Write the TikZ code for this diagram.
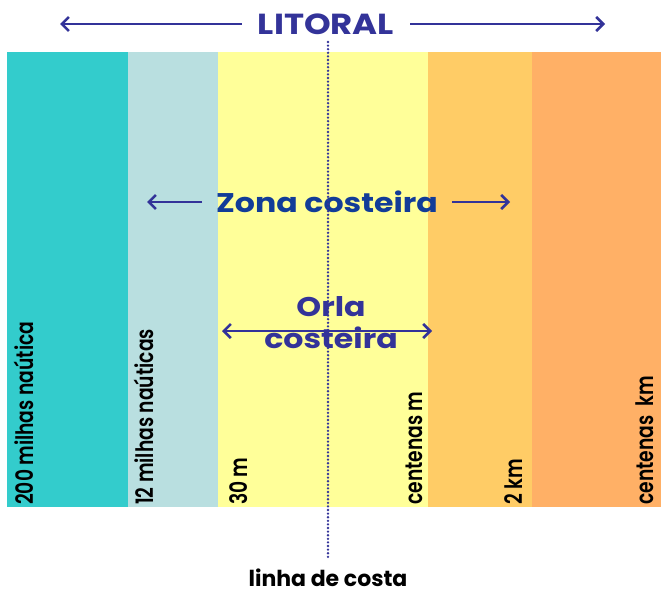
\documentclass[tikz,border=0pt]{standalone}
\usepackage{fontspec}
\setmainfont{Poppins}
\newfontfamily\medfont{Poppins SemiBold}
\usetikzlibrary{arrows.meta}
\definecolor{oceano}{HTML}{33CCCC}
\definecolor{plataforma}{HTML}{B9DFE0}
\definecolor{praia}{HTML}{FFFF99}
\definecolor{duna}{HTML}{FFCC66}
\definecolor{interior}{HTML}{FFB066}
\definecolor{azul}{HTML}{333399}
\definecolor{azulzona}{HTML}{123C98}
\newcommand{\estreito}[1]{\scalebox{0.78}[1]{#1}}
\newcommand{\largo}[1]{\scalebox{1.17}[1]{#1}}

\tikzset{
	seta/.style={line width=2.6pt, color=azul, -{Straight Barb[length=7pt,width=14pt]}},
	setadupla/.style={line width=2.6pt, color=azul, {Straight Barb[length=7pt,width=14pt]}-{Straight Barb[length=7pt,width=14pt]}},
	rotulo/.style={rotate=90, anchor=base west, inner sep=0pt, font=\medfont\fontsize{24}{24}\selectfont},
}

\begin{document}
\begin{tikzpicture}[x=1pt, y=-1pt]
	%%%%% START %%%%%
	\useasboundingbox[fill=white] (0, 0) rectangle (661, 594);
	
	% faixas
	\fill[oceano] (7, 52) rectangle (128, 507);
	\fill[plataforma] (128, 52) rectangle (218, 507);
	\fill[praia] (218, 52) rectangle (428, 507);
	\fill[duna] (428, 52) rectangle (532, 507);
	\fill[interior] (532, 52) rectangle (661, 507);
	
	% litoral
	\node[inner sep=0pt, outer sep=16pt, color=azul, font=\bfseries\fontsize{29}{29}\selectfont] (litoral) at (326, 24) {\largo{LITORAL}};
	\coordinate (litE) at (60, 24);
	\coordinate (litD) at (605, 24);
	\draw[seta] (litoral.west) -- (litE);
	\draw[seta] (litoral.east) -- (litD);
	
	% zona costeira
	\node[inner sep=0pt, outer sep=14pt, color=azulzona, font=\bfseries\fontsize{27}{27}\selectfont] (zona) at (327, 202) {\largo{Zona costeira}};
	\coordinate (zonaE) at (147, 202);
	\coordinate (zonaD) at (510, 202);
	\draw[seta] (zona.west) -- (zonaE);
	\draw[seta] (zona.east) -- (zonaD);
	
	% orla costeira
	\coordinate (orlaE) at (222, 331);
	\coordinate (orlaD) at (432, 331);
	\draw[setadupla] (orlaE) -- (orlaD);
	\node[inner sep=0pt, color=azul, align=center, font=\bfseries\fontsize{27}{32}\selectfont] (orla) at (331, 323) {\largo{Orla}\\\largo{costeira}};
	
	% linha de costa
	\node[inner sep=0pt, font=\bfseries\fontsize{22}{22}\selectfont] (costa) at (328, 578) {linha de costa};
	\coordinate (costaT) at (328, 42);
	\coordinate (costaB) at (328, 560);
	\draw[line width=2.6pt, color=azul, line cap=round, dash pattern=on 0pt off 3.6pt] (costaT) -- (costaB);
	
	% distancias
	\node[rotulo] (d200) at (33, 505) {\estreito{200 milhas naútica}};
	\node[rotulo] (d12) at (153, 505) {\estreito{12 milhas naúticas}};
	\node[rotulo] (d30) at (247, 505) {\estreito{30 m}};
	\node[rotulo] (dcm) at (422, 505) {\estreito{centenas m}};
	\node[rotulo] (d2k) at (522, 505) {\estreito{2 km}};
	\node[rotulo] (dck) at (653, 505) {\estreito{centenas~ km}};
	%%%%% END %%%%%
\end{tikzpicture}
\end{document}
